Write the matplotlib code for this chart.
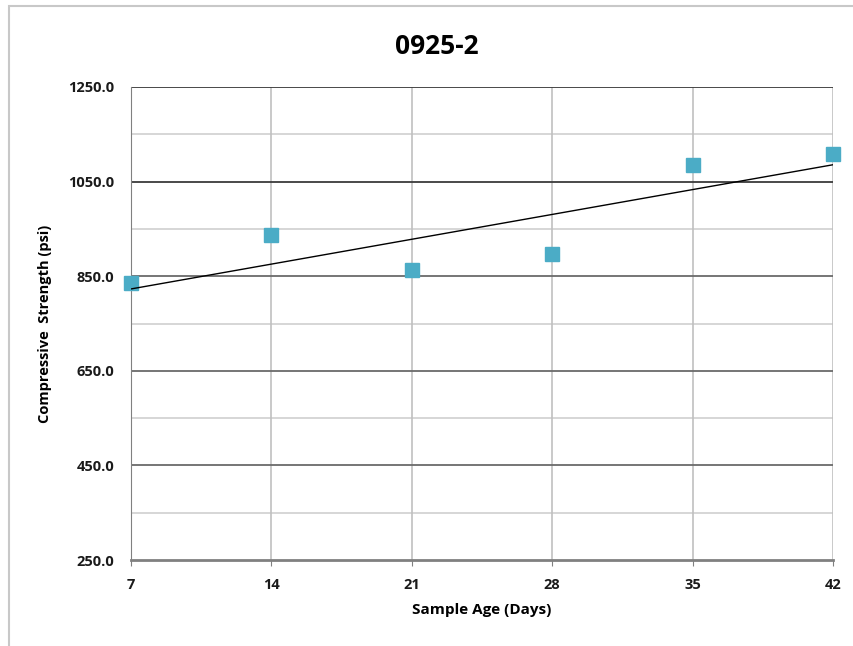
import numpy as np
import matplotlib.pyplot as plt
from matplotlib.patches import Rectangle

plt.rcParams['font.family'] = ['Open Sans', 'DejaVu Sans']

age = [7, 14, 21, 28, 35, 42]
strength = [836, 937, 863, 897, 1085, 1108]
xticks = [7, 14, 21, 28, 35, 42]
yticks = [250, 450, 650, 850, 1050, 1250]

fig = plt.figure(figsize=(8.54, 6.46), dpi=100)
# outer chart border (only top and left are visible in the crop)
fig.patches.append(Rectangle((9 / 854, -0.05), 1.0, 1 - 6 / 646 + 0.05,
                             transform=fig.transFigure, fill=False, edgecolor='#c8c8c8', linewidth=1.5))

ax = fig.add_axes([131 / 854, 86 / 646, (833 - 131) / 854, (560 - 87) / 646])

# gridlines
for v in np.arange(350, 1250, 200):
    ax.axhline(v, color='#d0d0d0', linewidth=1.2, zorder=0)
for v in yticks[1:]:
    ax.axhline(v, color='#3a3a3a' if v >= 1050 else '#6a6a6a', linewidth=1.3, zorder=1)
for v in xticks[1:]:
    ax.axvline(v, color='#c0c0c0', linewidth=1.2, zorder=0)

ax.plot(age, strength, 's', color='#4BACC6', markersize=10.5, zorder=3, clip_on=False)

coef = np.polyfit(age, strength, 1)
xs = np.array([7, 42])
ax.plot(xs, np.polyval(coef, xs), color='black', linewidth=1.0, zorder=4)

ax.set_xlim(7, 42)
ax.set_ylim(250, 1250)
ax.set_xticks(xticks)
ax.set_yticks(yticks)
ax.set_yticklabels(['%.1f' % v for v in yticks])

for s in ['top', 'right']:
    ax.spines[s].set_visible(False)
ax.spines['left'].set_color('#808080')
ax.spines['bottom'].set_color('#808080')
ax.spines['bottom'].set_linewidth(2)
ax.tick_params(axis='y', length=0, pad=12, labelsize=10.5)
ax.tick_params(axis='x', length=4, color='#808080', pad=9, labelsize=10.5)
for lab in ax.get_xticklabels() + ax.get_yticklabels():
    lab.set_fontweight('bold')
    lab.set_color('#1a1a1a')

ax.set_xlabel('Sample Age (Days)', fontsize=11, fontweight='bold', labelpad=8)
ax.set_ylabel('Compressive  Strength (psi)', fontsize=10.5, fontweight='bold', labelpad=12)
fig.text(437 / 854, 1 - 46 / 646, '0925-2', ha='center', va='center',
         fontsize=19, fontweight='bold')

fig.savefig('out.png', dpi=100)
